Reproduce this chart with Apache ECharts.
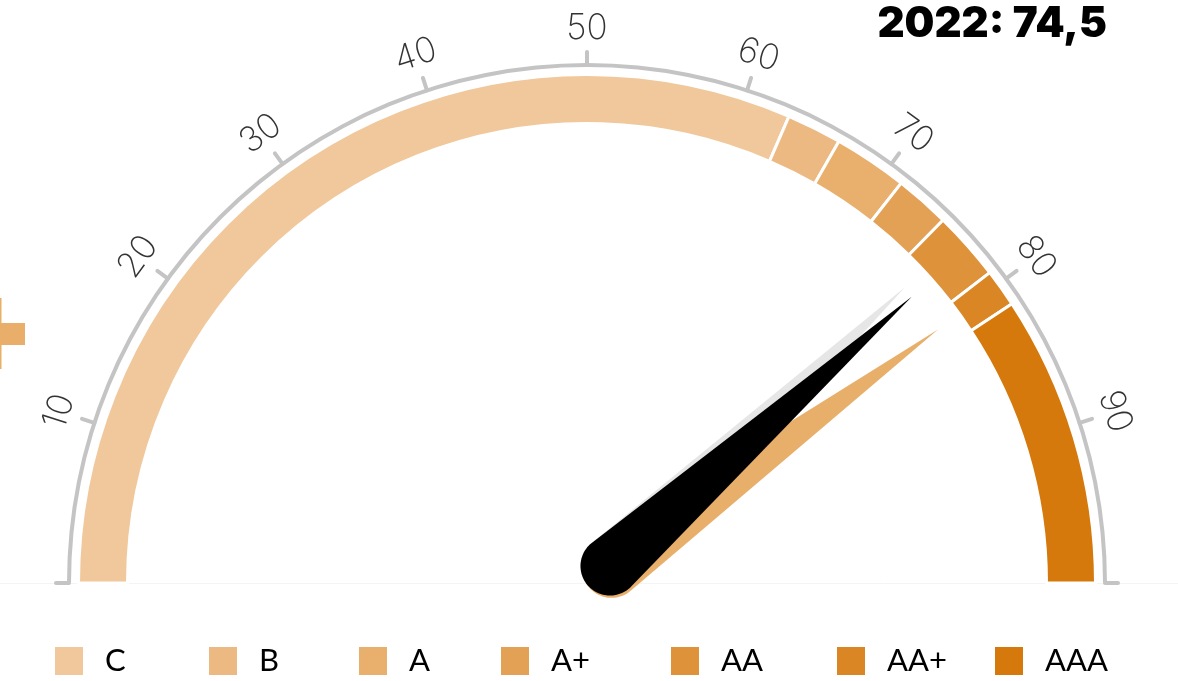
<!DOCTYPE html>
<html><head><meta charset="utf-8">
<script src="https://cdn.jsdelivr.net/npm/echarts@6/dist/echarts.min.js"></script>
<style>html,body{margin:0;padding:0;background:#fff}#main{width:1178px;height:681px}</style>
</head><body><div id="main"></div>
<script>
// ---- data ----
const year = '2022';
const score = 74.5;          // black needle
const compareScore = 77.6;   // orange needle
const bandNames = ['C', 'B', 'A', 'A+', 'AA', 'AA+', 'AAA'];
const bandUpper = [63, 66.5, 71.2, 74.7, 79.1, 81.5, 100];
const axisMin = 0, axisMax = 100, tickStep = 10;

// ---- style ----
const bandColors = ['#f0c89c', '#ecb982', '#e9af6c', '#e3a156', '#de923a', '#db8624', '#d6790c'];
const CX = 587, CY = 583;
const legendLeft = [48, 202, 352, 494, 664, 830, 988];

function needleShape(c, r, t) {
  const dx = t[0] - c[0], dy = t[1] - c[1], D = Math.hypot(dx, dy);
  const base = Math.atan2(dy, dx), a = Math.acos(r / D);
  const pts = [t];
  const N = 60;
  for (let i = 0; i <= N; i++) {
    const ang = base + a + (2 * Math.PI - 2 * a) * i / N;
    pts.push([c[0] + r * Math.cos(ang), c[1] + r * Math.sin(ang)]);
  }
  let minX = Infinity, minY = Infinity, maxX = -Infinity, maxY = -Infinity;
  pts.forEach(p => { minX = Math.min(minX, p[0]); maxX = Math.max(maxX, p[0]); minY = Math.min(minY, p[1]); maxY = Math.max(maxY, p[1]); });
  const icon = 'path://M' + pts.map(p => p[0].toFixed(3) + ' ' + p[1].toFixed(3)).join(' L') + ' Z';
  return { icon, width: maxX - minX, length: maxY - minY, offsetCenter: [(minX + maxX) / 2, maxY], keepAspect: false };
}
const needleBlack = needleShape([4.7, -28.2], 29.5, [33.9, -431.6]);
const needleGrey = needleShape([4.7, -28.2], 29.5, [22.6, -433.6]);

const bandData = bandNames.map((n, i) => ({
  name: n,
  value: bandUpper[i] - (i ? bandUpper[i - 1] : axisMin),
  itemStyle: { color: bandColors[i] }
}));
bandData.push({ name: '', value: axisMax - axisMin, itemStyle: { color: 'rgba(0,0,0,0)', borderWidth: 0 } });

function needleSeries(val, shape, color) {
  return {
    type: 'gauge', center: [CX, CY], radius: 519, startAngle: 180, endAngle: 0,
    min: axisMin, max: axisMax, silent: true,
    axisLine: { show: false }, splitLine: { show: false }, axisTick: { show: false }, axisLabel: { show: false },
    anchor: { show: false }, title: { show: false }, detail: { show: false },
    pointer: Object.assign({ show: true, itemStyle: { color } }, shape),
    itemStyle: { color },
    data: [{ value: val }]
  };
}

const chart = echarts.init(document.getElementById('main'), null, { renderer: 'canvas' });
chart.setOption({
  animation: false,
  backgroundColor: '#fff',
  title: {
    text: year + ': ' + String(score).replace('.', ','),
    right: 66, top: -2,
    textStyle: { fontFamily: 'Inter', fontWeight: 900, fontSize: 42, color: '#000' }
  },
  legend: bandNames.map((n, i) => ({
    data: [n], left: legendLeft[i], top: 640, icon: 'rect', itemWidth: 30, itemHeight: 30,
    selectedMode: false,
    textStyle: { fontFamily: 'Lato', fontSize: 31, color: '#000', padding: [0, 0, 0, 16] }
  })),
  graphic: [
    { type: 'line', shape: { x1: 0, y1: 583.5, x2: 1178, y2: 583.5 }, style: { stroke: '#f4f4f4', lineWidth: 1 }, z: -1 },
    { type: 'rect', shape: { x: 0, y: 323, width: 25, height: 22 }, style: { fill: '#e9ae69' } },
    { type: 'rect', shape: { x: 0, y: 298, width: 1.5, height: 71 }, style: { fill: '#e9ae69' } }
  ],
  series: [
    {
      type: 'pie', center: [CX, CY], radius: [459.5, 508.5], startAngle: 180, clockwise: true,
      silent: true, label: { show: false }, labelLine: { show: false }, emphasis: { disabled: true },
      itemStyle: { borderColor: '#fff', borderWidth: 3 },
      data: bandData
    },
    {
      type: 'gauge', center: [CX, CY], radius: 520, startAngle: 180, endAngle: 0,
      min: axisMin, max: axisMax, splitNumber: (axisMax - axisMin) / tickStep, silent: true,
      axisLine: { lineStyle: { width: 4, color: [[1, '#c4c4c4']] } },
      splitLine: { distance: -15, length: 13, lineStyle: { width: 4, color: '#c4c4c4', cap: 'round' } },
      axisTick: { show: false },
      axisLabel: {
        distance: -33, rotate: 'tangential', color: '#333', fontFamily: 'Inter', fontWeight: 200, fontSize: 35,
        formatter: v => (v === axisMin || v === axisMax) ? '' : String(v)
      },
      pointer: { show: false }, anchor: { show: false }, title: { show: false }, detail: { show: false },
      data: [{ value: score }]
    },
    needleSeries(score, needleGrey, '#e6e6e6'),
    needleSeries(compareScore, needleBlack, '#e8af6b'),
    needleSeries(score, needleBlack, '#000')
  ]
});
</script></body></html>
